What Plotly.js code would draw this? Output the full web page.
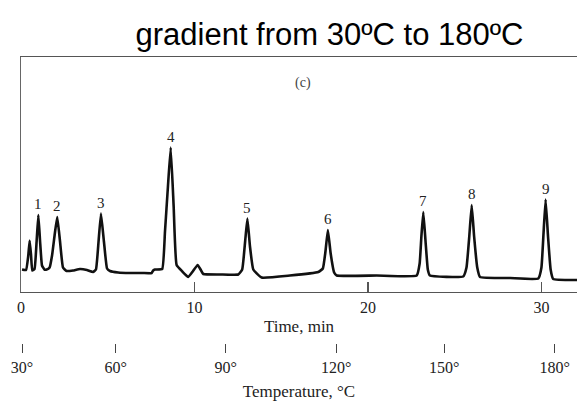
<!DOCTYPE html>
<html>
<head>
<meta charset="utf-8">
<script src="https://cdn.plot.ly/plotly-3.0.1.min.js"></script>
<style>html,body{margin:0;padding:0;background:#fff;}#chart{width:577px;height:401px;}</style>
</head>
<body>
<div id="chart"></div>
<script>
// Chromatogram trace (time in min, detector signal in arbitrary units)
var timeMin = [0.06, 0.29, 0.42, 0.50, 0.58, 0.65, 0.78, 0.90, 1.00, 1.10, 1.21, 1.35, 1.48, 1.65, 1.79, 1.95, 2.09, 2.25, 2.42, 2.63, 3.00, 3.40, 3.80, 4.15, 4.32, 4.47, 4.61, 4.78, 4.96, 5.13, 5.60, 6.28, 7.00, 7.53, 7.62, 7.72, 8.14, 8.30, 8.47, 8.63, 8.80, 8.97, 9.30, 9.64, 9.90, 10.18, 10.35, 10.51, 11.50, 12.52, 12.75, 12.92, 13.05, 13.20, 13.39, 13.87, 15.50, 17.14, 17.40, 17.55, 17.69, 17.85, 18.05, 18.20, 20.50, 22.81, 22.98, 23.08, 23.19, 23.32, 23.45, 23.57, 25.49, 25.68, 25.84, 25.98, 26.12, 26.30, 26.46, 28.20, 29.82, 30.00, 30.12, 30.24, 30.38, 30.53, 30.68, 32.05];
var signal  = [22.0, 21.5, 36.0, 51.0, 36.0, 21.0, 22.5, 50.0, 76.5, 50.0, 26.0, 22.0, 22.0, 24.0, 36.0, 58.0, 74.5, 50.0, 24.0, 20.5, 21.0, 22.5, 21.5, 19.5, 22.0, 50.0, 78.0, 50.0, 23.0, 20.5, 19.0, 18.5, 18.5, 18.5, 21.0, 22.0, 22.5, 60.0, 105.0, 144.0, 85.0, 26.5, 20.0, 14.5, 20.0, 26.5, 22.0, 17.5, 17.0, 17.0, 22.0, 50.0, 73.0, 45.0, 22.0, 14.0, 16.0, 19.5, 23.0, 40.0, 61.5, 38.0, 19.0, 16.0, 16.0, 16.0, 28.0, 55.0, 79.5, 50.0, 22.0, 16.0, 15.0, 24.0, 55.0, 86.5, 55.0, 24.0, 14.5, 13.5, 13.0, 24.0, 58.0, 92.0, 55.0, 22.0, 12.5, 11.5];

// Numbered peaks
var peakLabels = ["1", "2", "3", "4", "5", "6", "7", "8", "9"];
var peakTimes  = [1.00, 2.09, 4.61, 8.63, 13.05, 17.69, 23.19, 25.98, 30.24];
var peakTops   = [76.5, 74.5, 78.0, 144.0, 73.0, 61.5, 79.5, 86.5, 92.0];

// Time axis ticks
var timeTicks = [10, 20, 30];
var timeTickText = ["0", "10", "20", "30"];

// Temperature programme: temperature marks and the times they fall at
var tempLabels = ["30°", "60°", "90°", "120°", "150°", "180°"];
var tempTimes  = [0.06, 5.46, 11.80, 18.17, 24.40, 30.76];

var serif = "Liberation Serif, Times New Roman, serif";

var traces = [
  {
    x: timeMin, y: signal, type: "scatter", mode: "lines",
    line: {color: "#111111", width: 2.6, shape: "spline", smoothing: 0.35},
    hoverinfo: "skip", showlegend: false
  },
  {
    x: tempTimes, y: tempTimes.map(function(){return null;}), xaxis: "x2", yaxis: "y",
    type: "scatter", mode: "lines", hoverinfo: "skip", showlegend: false
  }
];

var annotations = peakLabels.map(function(lbl, i){
  return {
    x: peakTimes[i], y: peakTops[i], xref: "x", yref: "y",
    text: lbl, showarrow: false, yanchor: "bottom", yshift: 1,
    font: {family: serif, size: 15, color: "#222"}
  };
});
annotations.push({
  xref: "paper", yref: "paper", x: 0.507, y: 0.924, xanchor: "center", yanchor: "middle",
  text: "(c)", showarrow: false,
  font: {family: serif, size: 14, color: "#444"}
});

var layout = {
  width: 577, height: 401,
  margin: {l: 21, r: 0, t: 57, b: 0, pad: 0},
  paper_bgcolor: "#ffffff", plot_bgcolor: "#ffffff",
  showlegend: false,
  title: {
    text: "gradient from 30ºC to 180ºC",
    x: 0.571, xanchor: "center", y: 0.915, yanchor: "middle",
    font: {family: "Liberation Sans, Arial, sans-serif", size: 31, color: "#000"}
  },
  xaxis: {
    range: [0, 32.05], domain: [0, 1],
    showline: true, linecolor: "#555", linewidth: 1.5, mirror: true,
    showgrid: false, zeroline: false,
    tickmode: "array", tickvals: [0].concat(timeTicks), ticktext: timeTickText,
    ticks: "inside", ticklen: 10, tickwidth: 1.2, tickcolor: "#555",
    tickfont: {family: serif, size: 16, color: "#222"},
    ticklabelstandoff: 1,
    title: {text: "Time, min", font: {family: serif, size: 17, color: "#222"}, standoff: 5},
    automargin: false, fixedrange: true
  },
  xaxis2: {
    overlaying: "x", anchor: "free", position: 0.1677, side: "bottom",
    range: [0, 32.05], matches: "x",
    showline: false, showgrid: false, zeroline: false,
    tickmode: "array", tickvals: tempTimes, ticktext: tempLabels,
    ticks: "outside", ticklen: 9, tickwidth: 1, tickcolor: "#444",
    tickfont: {family: serif, size: 16, color: "#222"},
    ticklabelstandoff: 0,
    title: {text: "Temperature, °C", font: {family: serif, size: 17, color: "#222"}, standoff: 10},
    automargin: false, fixedrange: true
  },
  yaxis: {
    range: [0, 234.5], domain: [0.3183, 1],
    showline: true, linecolor: "#666", linewidth: 1.5,
    showgrid: false, zeroline: false, showticklabels: false, ticks: "",
    automargin: false, fixedrange: true
  },
  annotations: annotations
};

Plotly.newPlot("chart", traces, layout, {displayModeBar: false, staticPlot: true});
</script>
</body>
</html>
